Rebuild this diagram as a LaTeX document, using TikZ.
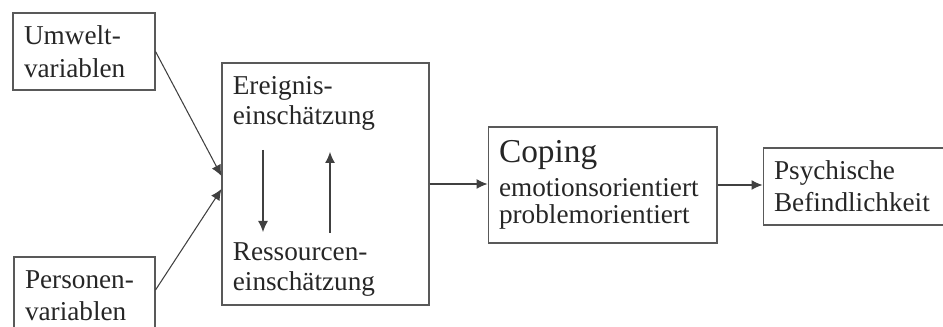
\documentclass[tikz,border=0pt]{standalone}
\usepackage{fontspec}
\setmainfont{Liberation Serif}
\usetikzlibrary{arrows.meta,positioning,calc}

\begin{document}
\begin{tikzpicture}[x=0.02cm, y=-0.02cm,
    box/.style={draw=black!65, line width=0.6pt, inner xsep=0.22cm, inner ysep=0pt, align=left, text=black!85, font=\fontsize{15.5}{18}\selectfont},
    frame/.style={draw=black!65, line width=0.6pt, inner sep=0pt},
    txt/.style={inner sep=0pt, align=left, text=black!85, font=\fontsize{15.5}{17}\selectfont},
    arr/.style={-{Latex[length=0.22cm,width=0.2cm]}, draw=black!75, line width=0.6pt}]
    \useasboundingbox (0,0) rectangle (943,327);

    % Einflussgroessen
    \node[box, text width=2.40cm, minimum height=1.54cm, font=\fontsize{15.5}{19}\selectfont] (umwelt) at (84,51.5) {Umwelt-\\variablen};
    \node[box, text width=2.38cm, minimum height=1.56cm] (personen) at (84.5,296) {Personen-\\variablen};

    % Bewertung
    \node[frame, minimum width=4.14cm, minimum height=4.84cm] (bew) at (325.5,184) {};
    \node[txt, anchor=north west] (ereig) at ([xshift=0.22cm,yshift=-0.28cm]bew.north west) {Ereignis-\\einschätzung};
    \node[txt, anchor=south west] (ressou) at ([xshift=0.22cm,yshift=0.18cm]bew.south west) {Ressourcen-\\einschätzung};
    \coordinate (dtop) at (263,150);
    \coordinate (dbot) at (263,232);
    \coordinate (utop) at (330,152);
    \coordinate (ubot) at (330,233);
    \draw[arr] (dtop) -- (dbot);
    \draw[arr] (ubot) -- (utop);

    % Coping und Befinden
    \node[box, text width=4.14cm, minimum height=2.32cm, font=\fontsize{15.5}{15.5}\selectfont] (coping) at (602.5,185) {{\fontsize{19}{19}\selectfont Coping}\\[3.5pt]emotionsorientiert\\problemorientiert};
    \node[box, text width=3.22cm, minimum height=1.54cm] (psych) at (854.5,186.5) {Psychische\\Befindlichkeit};

    % Pfeile
    \draw[arr] (umwelt.east) -- ([yshift=0.16cm]bew.west);
    \draw[arr] ([yshift=0.12cm]personen.east) -- ([yshift=-0.1cm]bew.west);
    \draw[arr] (bew.east) -- (bew.east -| coping.west);
    \draw[arr] (coping.east) -- (coping.east -| psych.west);
\end{tikzpicture}
\end{document}
